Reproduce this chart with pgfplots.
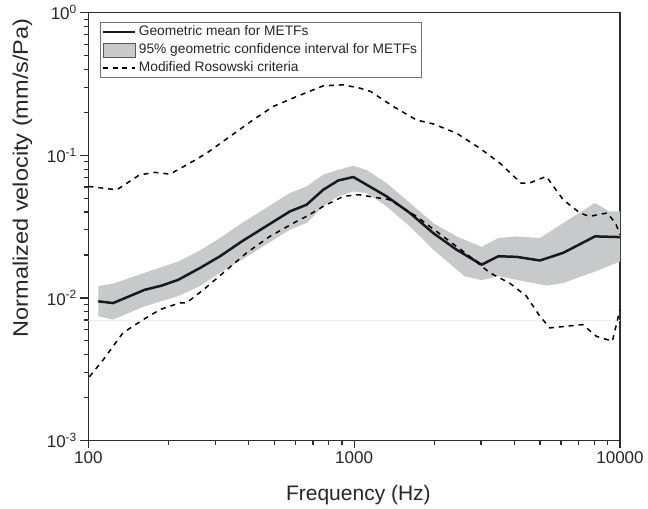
\documentclass[border=0pt]{standalone}
\usepackage{fontspec}
\setmainfont{Liberation Sans}
\usepackage{pgfplots}
\pgfplotsset{compat=1.18}
\definecolor{bandgray}{RGB}{200,201,203}
\definecolor{axgray}{RGB}{45,45,45}
\begin{document}
\begin{tikzpicture}
\useasboundingbox (-88.3bp,-68.5bp) rectangle (559.7bp,440.5bp);
\begin{axis}[
  at={(0,0)}, anchor=south west,
  scale only axis, width=531.7bp, height=427.8bp,
  xmode=log, ymode=log,
  xmin=100, xmax=10000, ymin=0.001, ymax=1,
  axis line style={axgray, line width=1.4bp},
  tick align=outside, tick pos=left,
  major tick length=8bp, minor tick length=4.5bp,
  every tick/.style={axgray, line width=1.2bp},
  xtick={100,1000,10000},
  xticklabels={100,1000,10000},
  minor xtick={200,300,400,500,600,700,800,900,2000,3000,4000,5000,6000,7000,8000,9000},
  ytick={0.001,0.01,0.1,1},
  yticklabels={\mbox{10\textsuperscript{-3}},\mbox{10\textsuperscript{-2}},\mbox{10\textsuperscript{-1}},\mbox{10\textsuperscript{0}}},
  minor ytick={0.002,0.003,0.004,0.005,0.006,0.007,0.008,0.009,0.02,0.03,0.04,0.05,0.06,0.07,0.08,0.09,0.2,0.3,0.4,0.5,0.6,0.7,0.8,0.9},
  tick label style={font=\fontsize{17bp}{20bp}\selectfont, text=black!85},
  xlabel={Frequency (Hz)},
  ylabel={\scalebox{1.12}[1]{Normalized velocity (mm/s/Pa)}},
  label style={font=\fontsize{21bp}{25bp}\selectfont, text=black!85},
  x label style={at={(axis description cs:0.508,0)}, anchor=base, yshift=-59.5bp},
  y label style={at={(axis description cs:-0.1241,0.614)}, anchor=center},
  legend style={at={(axis description cs:0.022,0.978)}, anchor=north west,
    draw=black!55, line width=0.8bp,
    font=\fontsize{13.75bp}{16bp}\selectfont,
    inner xsep=1.5bp, inner ysep=0.5bp,
    nodes={inner sep=2.5bp, text height=10bp, text depth=3bp, text=black!85}},
  legend cell align=left,
]
% faint horizontal line
\addplot[forget plot, draw=black!7, line width=0.6bp] coordinates {(100,0.00697) (10000,0.00697)};
% confidence band
\addplot[forget plot, fill=bandgray, draw=none] coordinates {
(109,0.0121) (124,0.0126) (163,0.015) (218,0.018) (263,0.0215) (313,0.0263) (378,0.0335)
(455,0.0415) (573,0.0544) (662,0.0605) (765,0.073) (871,0.0792) (993,0.0844) (1114,0.079)
(1325,0.0638) (1621,0.0463) (1984,0.0335) (2426,0.027) (3018,0.0228) (3486,0.0263)
(4085,0.027) (4998,0.0263) (6113,0.0335) (8051,0.0463) (9115,0.0404) (10000,0.0404)
(10000,0.018) (8051,0.0153) (6113,0.0127) (5280,0.0122) (4340,0.0131) (3486,0.0142)
(3018,0.0133) (2600,0.0142) (1984,0.0218) (1621,0.0317) (1325,0.0438) (1114,0.0544)
(993,0.0558) (871,0.0515) (765,0.0438) (662,0.0335) (573,0.0301) (455,0.023) (378,0.0185)
(313,0.015) (263,0.0121) (218,0.0103) (163,0.00873) (124,0.00705) (109,0.00743)
} -- cycle;
% geometric mean
\addplot[forget plot, color=black!90, line width=2.5bp, line join=round] coordinates {
(109,0.00946) (124,0.0092) (163,0.0114) (189,0.0122) (218,0.0134) (263,0.0162) (313,0.0196)
(378,0.0249) (455,0.0309) (573,0.0404) (662,0.045) (765,0.0573) (871,0.0666) (993,0.0704)
(1114,0.0622) (1325,0.0515) (1621,0.0394) (1984,0.0285) (2426,0.0218) (3018,0.0171)
(3486,0.0196) (4085,0.0194) (4998,0.0183) (6113,0.0207) (8051,0.027) (10000,0.0267)
};
% Rosowski upper
\addplot[forget plot, color=black, line width=1.5bp, dash pattern=on 5bp off 5bp] coordinates {
(100,0.0605) (128,0.0573) (156,0.073) (178,0.0759) (203,0.0738) (241,0.0882) (279,0.1036)
(341,0.1355) (417,0.1773) (496,0.22) (607,0.258) (765,0.307) (910,0.312) (1049,0.296)
(1155,0.28) (1403,0.22) (1715,0.177) (1984,0.166) (2426,0.143) (2972,0.112) (3535,0.088)
(4247,0.0638) (4555,0.0638) (5280,0.0711) (6113,0.0488) (7066,0.0394) (7668,0.0373)
(8941,0.0394) (9617,0.0335) (10000,0.0277)
};
% Rosowski lower
\addplot[forget plot, color=black, line width=1.5bp, dash pattern=on 5bp off 5bp] coordinates {
(101,0.0028) (114,0.0037) (135,0.00569) (161,0.00705) (186,0.00828) (221,0.00923)
(234,0.00923) (271,0.0114) (322,0.015) (394,0.0207) (482,0.027) (607,0.0344) (662,0.0373)
(765,0.0438) (910,0.0515) (1020,0.0528) (1049,0.0528) (1360,0.0488) (1715,0.0373)
(2162,0.027) (2717,0.0196) (3238,0.015) (3845,0.0127) (4442,0.0103) (4998,0.00743)
(5444,0.00616) (6290,0.00633) (7239,0.0065) (8147,0.00538) (9360,0.00497) (10000,0.0083)
};
\addlegendimage{legend image code/.code={\draw[black!90, line width=2.5bp] (0bp,0bp) -- (32bp,0bp);}}
\addlegendentry{Geometric mean for METFs}
\addlegendimage{legend image code/.code={\draw[fill=bandgray, draw=black!65, line width=0.8bp] (0bp,-7bp) rectangle (32bp,7bp);}}
\addlegendentry{95\% geometric confidence interval for METFs}
\addlegendimage{legend image code/.code={\draw[black, line width=1.5bp, dash pattern=on 5bp off 4.5bp] (0bp,0bp) -- (32bp,0bp);}}
\addlegendentry{Modified Rosowski criteria}
\end{axis}
\end{tikzpicture}
\end{document}
